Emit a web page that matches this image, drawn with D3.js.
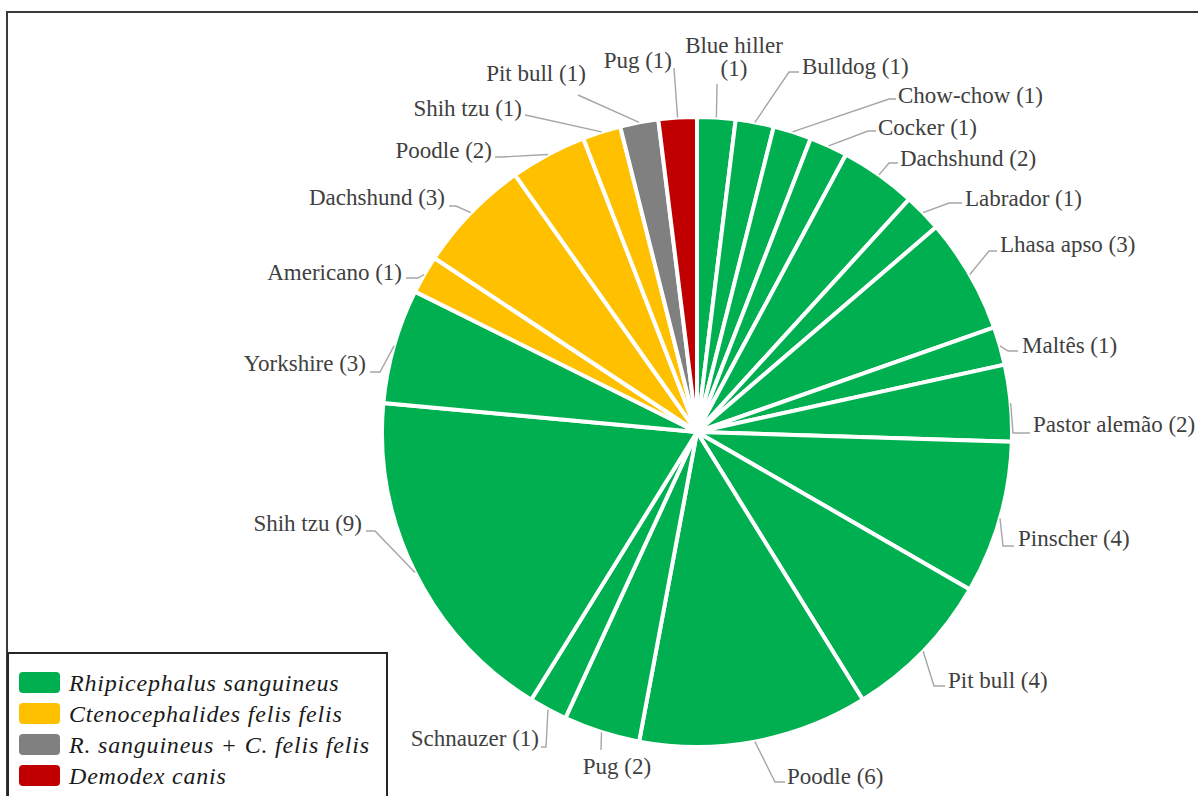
<!DOCTYPE html>
<html>
<head>
<meta charset="utf-8">
<script src="https://cdn.jsdelivr.net/npm/d3@7"></script>
<style>
  html, body { margin: 0; padding: 0; background: #fff; }
  svg { display: block; }
  .lbl { font-family: "Liberation Serif", "DejaVu Serif", serif; font-size: 23px; fill: #404040; }
  .leg { font-family: "Liberation Serif", "DejaVu Serif", serif; font-style: italic; font-size: 24px; letter-spacing: 0.8px; fill: #1a1a1a; }
</style>
</head>
<body>
<svg id="chart" width="1198" height="796"></svg>
<script>
// --- data (clockwise from 12 o'clock) ---
const breeds = [
  "Blue hiller", "Bulldog", "Chow-chow", "Cocker", "Dachshund", "Labrador", "Lhasa apso",
  "Maltês", "Pastor alemão", "Pinscher", "Pit bull", "Poodle", "Pug", "Schnauzer",
  "Shih tzu", "Yorkshire",
  "Americano", "Dachshund", "Poodle", "Shih tzu",
  "Pit bull",
  "Pug"
];
const counts = [1, 1, 1, 1, 2, 1, 3, 1, 2, 4, 4, 6, 2, 1, 9, 3, 1, 3, 2, 1, 1, 1];
const speciesIdx = [0, 0, 0, 0, 0, 0, 0, 0, 0, 0, 0, 0, 0, 0, 0, 0, 1, 1, 1, 1, 2, 3];
const species = [
  "Rhipicephalus sanguineus",
  "Ctenocephalides felis felis",
  "R. sanguineus + C. felis felis",
  "Demodex canis"
];
const speciesColors = ["#00B050", "#FFC000", "#808080", "#C00000"];

// --- label layout: text anchor point (x, y = vertical middle) and leader bends ---
const labelLayout = [
  { x: 734, y: 45, a: "middle", wrap: true, pts: [[717, 84]] },
  { x: 802, y: 66, a: "start", pts: [[789, 72], [799, 72]] },
  { x: 898, y: 95, a: "start", pts: [[889, 99], [896, 99]] },
  { x: 878, y: 127, a: "start", pts: [[868, 131], [876, 131]] },
  { x: 900, y: 158, a: "start", pts: [[889, 163], [898, 163]] },
  { x: 965, y: 198, a: "start", pts: [[949, 203], [962, 203]] },
  { x: 1000, y: 244, a: "start", pts: [[989, 251], [997, 251]] },
  { x: 1022, y: 345, a: "start", pts: [[1008, 351], [1018, 351]] },
  { x: 1033, y: 424, a: "start", pts: [[1013, 433], [1030, 433]] },
  { x: 1018, y: 538, a: "start", pts: [[1003, 546], [1014, 546]] },
  { x: 948, y: 680, a: "start", pts: [[934, 686], [945, 686]] },
  { x: 787, y: 776, a: "start", pts: [[775, 782], [785, 782]] },
  { x: 617, y: 766, a: "middle", pts: [[601, 750]] },
  { x: 539, y: 738, a: "end", pts: [[546, 747], [541, 747]] },
  { x: 362, y: 523, a: "end", pts: [[375, 531], [366, 531]] },
  { x: 366, y: 363, a: "end", pts: [[380, 372], [370, 372]] },
  { x: 402, y: 272, a: "end", pts: [[418, 278], [406, 278]] },
  { x: 445, y: 197, a: "end", pts: [[456, 206], [449, 206]] },
  { x: 492, y: 150, a: "end", pts: [[501, 157], [495, 157]] },
  { x: 522, y: 108, a: "end", pts: [[530, 116], [525, 115]] },
  { x: 536, y: 73, a: "middle", pts: [[578, 95]] },
  { x: 672, y: 60, a: "end", pts: [[674, 68]] }
];

const svg = d3.select("#chart");
const W = 1198, H = 796;
const cx = 697, cy = 432, r = 315;

// outer frame (only top and left edges are in view)
svg.append("path")
  .attr("d", `M7,${H} L7,12 L${W},12`)
  .attr("fill", "none")
  .attr("stroke", "#3a3a3a")
  .attr("stroke-width", 2);

const data = breeds.map((b, i) => ({ breed: b, count: counts[i], sp: speciesIdx[i], i: i }));

const pie = d3.pie().sort(null).value(d => d.count);
const arcs = pie(data);
const arc = d3.arc().innerRadius(0).outerRadius(r);
const edge = d3.arc().innerRadius(r).outerRadius(r);

const g = svg.append("g").attr("transform", `translate(${cx},${cy})`);

g.selectAll("path.slice")
  .data(arcs)
  .join("path")
  .attr("class", "slice")
  .attr("d", arc)
  .attr("fill", d => speciesColors[d.data.sp])
  .attr("stroke", "#fff")
  .attr("stroke-width", 4)
  .attr("stroke-linejoin", "round");

// leader lines
const line = d3.line();
svg.selectAll("path.leader")
  .data(arcs)
  .join("path")
  .attr("class", "leader")
  .attr("d", d => {
    const c = edge.centroid(d);
    const p0 = [cx + c[0], cy + c[1]];
    return line([p0].concat(labelLayout[d.index].pts));
  })
  .attr("fill", "none")
  .attr("stroke", "#a6a6a6")
  .attr("stroke-width", 1.4);

// labels
arcs.forEach(d => {
  const L = labelLayout[d.index];
  const txt = svg.append("text")
    .attr("class", "lbl")
    .attr("text-anchor", L.a);
  if (L.wrap) {
    txt.append("tspan").attr("x", L.x).attr("y", L.y).attr("dy", "0.35em").text(d.data.breed);
    txt.append("tspan").attr("x", L.x).attr("y", L.y + 23).attr("dy", "0.35em").text(`(${d.data.count})`);
  } else {
    txt.attr("x", L.x).attr("y", L.y).attr("dy", "0.35em")
      .text(`${d.data.breed} (${d.data.count})`);
  }
});

// legend
const leg = svg.append("g");
leg.append("rect")
  .attr("x", 8).attr("y", 653)
  .attr("width", 379).attr("height", 160)
  .attr("fill", "#fff")
  .attr("stroke", "#262626")
  .attr("stroke-width", 2);

const items = leg.selectAll("g.item")
  .data(species)
  .join("g")
  .attr("class", "item")
  .attr("transform", (d, i) => `translate(19,${672 + i * 31})`);

items.append("rect")
  .attr("width", 41).attr("height", 21)
  .attr("rx", 4)
  .attr("fill", (d, i) => speciesColors[i]);

items.append("text")
  .attr("class", "leg")
  .attr("x", 50).attr("y", 11).attr("dy", "0.35em")
  .text(d => d);
</script>
</body>
</html>
